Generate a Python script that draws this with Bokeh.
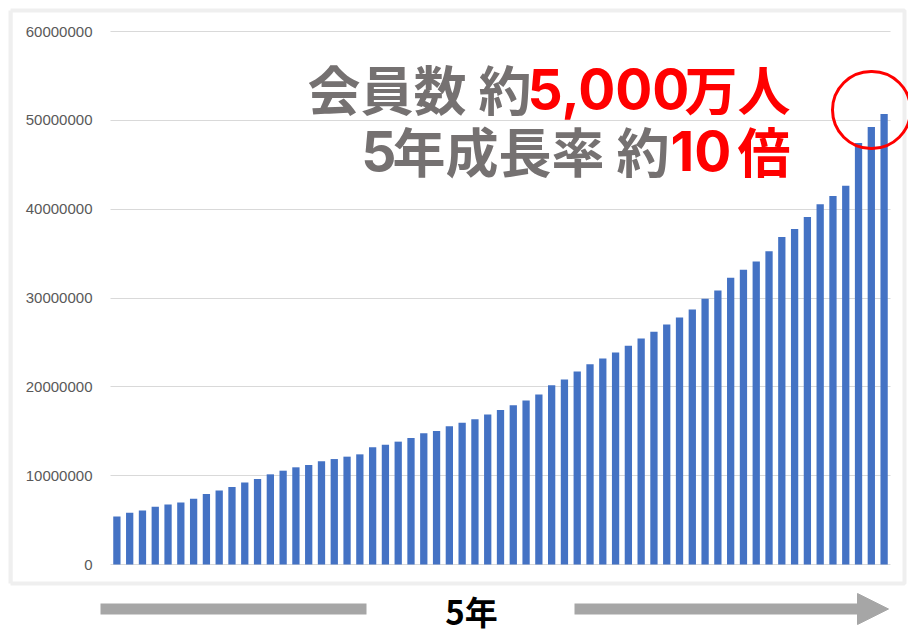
from bokeh.plotting import figure
from bokeh.models import (Range1d, FixedTicker, PrintfTickFormatter, Label,
                          BoxAnnotation, Arrow, NormalHead, ColumnDataSource)
from bokeh.embed import file_html
from bokeh.resources import INLINE

# ---- data ----
months = list(range(1, 62))
members = [5.41, 5.83, 6.09, 6.50, 6.76, 6.99, 7.40, 7.93, 8.34, 8.72,
           9.24, 9.62, 10.15, 10.56, 10.94, 11.20, 11.61, 11.87, 12.14, 12.40,
           13.19, 13.49, 13.83, 14.24, 14.77, 15.03, 15.56, 15.97, 16.35, 16.88,
           17.40, 17.93, 18.45, 19.13, 20.18, 20.82, 21.72, 22.55, 23.19, 23.87,
           24.62, 25.44, 26.19, 27.02, 27.81, 28.71, 29.91, 30.85, 32.28, 33.18,
           34.12, 35.25, 36.87, 37.77, 39.12, 40.55, 41.49, 42.65, 47.45, 49.25,
           50.71]
members = [round(v * 1e6) for v in members]
y_ticks = [0, 10000000, 20000000, 30000000, 40000000, 50000000, 60000000]

src = ColumnDataSource(dict(x=months, top=members))

W, H = 908, 633
# plot-area edges of the original chart (canvas pixels)
PL, PR, PT, PB = 110, 890, 31, 564
XPX = (PR - PL) / 61.0
YPX = (PB - PT) / 60e6
FRAME_L = 10


def dx(px):
    return 0.5 + (px - PL) / XPX


def dy(py):
    return (PB - py) / YPX


p = figure(width=W, height=H, output_backend="svg", toolbar_location=None,
           x_range=Range1d(dx(FRAME_L), dx(W)), y_range=Range1d(dy(H), dy(0)),
           min_border_left=FRAME_L, min_border_right=0,
           min_border_top=0, min_border_bottom=0,
           background_fill_color="white", border_fill_color="white")
p.outline_line_color = None
p.xaxis.visible = False
p.xgrid.visible = False

g = p.ygrid[0]
g.grid_line_color = "#d9d9d9"
g.grid_line_width = 1
g.ticker = FixedTicker(ticks=y_ticks)
if hasattr(g, "cross_bounds"):
    g.cross_bounds = (0.5, 61.5)

ax = p.yaxis[0]
ax.ticker = FixedTicker(ticks=y_ticks)
ax.formatter = PrintfTickFormatter(format="%d")
ax.bounds = (dy(583), dy(10))
ax.axis_line_color = "#efefef"
ax.axis_line_width = 4
ax.major_tick_line_color = None
ax.minor_tick_line_color = None
ax.major_tick_out = 0
ax.major_tick_in = 0
ax.minor_tick_out = 0
ax.minor_tick_in = 0
ax.major_label_text_font = "Liberation Sans"
ax.major_label_text_font_size = "15px"
ax.major_label_text_color = "#595959"
ax.major_label_standoff = -(92 - FRAME_L)

p.vbar(x="x", top="top", width=0.57, source=src, fill_color="#4472c4",
       line_color=None)

# outer light frame (top, right, bottom sides)
p.add_layout(BoxAnnotation(left=dx(FRAME_L), right=dx(904), top=dy(10), bottom=dy(583),
                           fill_color=None, fill_alpha=0, line_color="#efefef",
                           line_alpha=1, line_width=4, level="underlay"))

# headline texts
CJK = "Noto Sans CJK JP"
NUM = "Inter"
GRAY = "#757171"
RED = "#ff0000"
pieces = [
    # text, x, y(baseline), align, font, size, colour
    ("会員数 約", 531, 87, "right", CJK, "53px", GRAY),
    ("5,000", 527, 88, "left", NUM, "55px", RED),
    ("万人", 790, 87, "right", CJK, "53px", RED),
    ("5", 396, 150, "right", NUM, "55px", GRAY),
    ("年成長率 約", 669, 149, "right", CJK, "53px", GRAY),
    ("10", 670, 150, "left", NUM, "55px", RED),
    ("倍", 790, 149, "right", CJK, "53px", RED),
]
for txt, x, y, al, font, size, col in pieces:
    p.add_layout(Label(x=dx(x), y=dy(y), text=txt, text_align=al,
                       text_baseline="alphabetic", text_font=font,
                       text_font_size=size, text_font_style="bold",
                       text_color=col))

# red circle around the last bars
p.add_layout(BoxAnnotation(left=dx(832), right=dx(910), top=dy(71), bottom=dy(148),
                           fill_color=None, fill_alpha=0, line_color=RED,
                           line_alpha=1, line_width=3, border_radius=39,
                           level="overlay"))

# bottom arrows and caption
ARROW = "#a6a6a6"
p.add_layout(Arrow(end=None, x_start=dx(100), y_start=dy(608.5), x_end=dx(366),
                   y_end=dy(608.5), line_color=ARROW, line_width=11,
                   line_cap="butt"))
p.add_layout(Arrow(end=NormalHead(size=31, fill_color=ARROW, line_color=ARROW,
                                  line_width=1),
                   x_start=dx(574), y_start=dy(608.5), x_end=dx(888), y_end=dy(608.5),
                   line_color=ARROW, line_width=11, line_cap="butt"))
p.add_layout(Label(x=dx(471), y=dy(610), text="5年", text_align="center",
                   text_baseline="alphabetic", text_font=CJK, text_font_size="33px",
                   text_font_style="bold", text_color="black"))

open("out.html", "w").write(file_html(p, INLINE))
